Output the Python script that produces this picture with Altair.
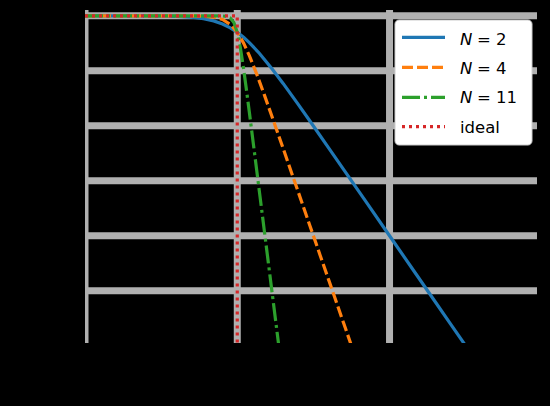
import altair as alt
import pandas as pd

# ---------------- data ----------------
series_names = ["N = 2", "N = 4", "N = 11", "ideal"]
series_colors = ["#1f77b4", "#ff7f0e", "#2ca02c", "#d62728"]

omega_n2 = [0.1, 0.2, 0.3, 0.4, 0.5, 0.6, 0.7, 0.8, 0.9, 1.0, 1.1, 1.2, 1.4,
            1.7, 2.0, 2.5, 3.0, 4.0, 5.0, 7.0, 10.0, 15.0, 20.0, 25.0, 32.0]
gain_n2 = [0.0, -0.007, -0.035, -0.11, -0.26, -0.53, -0.93, -1.49, -2.19, -3.01,
           -3.92, -4.88, -6.85, -9.71, -12.30, -16.03, -19.14, -24.10, -27.97,
           -33.80, -40.00, -47.04, -52.04, -55.92, -60.21]

omega_n4 = [0.1, 0.3, 0.5, 0.6, 0.7, 0.8, 0.9, 1.0, 1.1, 1.2, 1.35, 1.5, 1.75,
            2.0, 2.5, 3.0, 3.5, 4.0, 4.5, 5.0, 5.7]
gain_n4 = [0.0, 0.0, -0.017, -0.072, -0.243, -0.674, -1.555, -3.01, -4.97, -7.24,
           -10.80, -14.25, -19.49, -24.10, -31.84, -38.17, -43.53, -48.16,
           -52.26, -55.92, -60.47]

omega_n11 = [0.1, 0.5, 0.7, 0.8, 0.85, 0.9, 0.95, 1.0, 1.05, 1.1, 1.15, 1.2,
             1.3, 1.4, 1.5, 1.6, 1.7, 1.8, 1.9]
gain_n11 = [0.0, 0.0, -0.002, -0.032, -0.12, -0.41, -1.22, -3.01, -5.94, -9.61,
            -13.55, -17.50, -25.08, -32.15, -38.74, -44.91, -50.70, -56.17, -61.33]

omega_ideal = [0.1, 1.0, 1.0]
gain_ideal = [0.0, 0.0, -61.0]

x_grid = [0.1, 1.0, 10.0]
y_grid = [0, -10, -20, -30, -40, -50]

legend_italic = ["N", "N", "N", ""]
legend_rest = ["= 2", "= 4", "= 11", "ideal"]

# ---------------- build table ----------------
rows = []
for name, om, g in zip(series_names,
                       [omega_n2, omega_n4, omega_n11, omega_ideal],
                       [gain_n2, gain_n4, gain_n11, gain_ideal]):
    for i, (o, v) in enumerate(zip(om, g)):
        rows.append({"series": name, "omega": o, "gain": v, "i": i})
df = pd.DataFrame(rows)

# ---------------- styling ----------------
dashes = {"N = 2": None, "N = 4": [11, 4], "N = 11": [18, 4, 3, 4], "ideal": [3, 4]}
LW = 3.2
GRID_COLOR = "#b0b0b0"
GRID_W = 7

xscale = alt.Scale(type="log", domain=[0.1, 93], nice=False)
yscale = alt.Scale(domain=[-59.5, 1.05], nice=False, zero=False)

x_axis = alt.Axis(title="ω", values=x_grid, format="~g", grid=False,
                  labelColor="black", titleColor="black", tickColor="black",
                  domainColor="black", labelFontSize=14, titleFontSize=16)
y_axis = alt.Axis(title="|H(jω)|² (dB)", values=y_grid, grid=False,
                  labelColor="black", titleColor="black", tickColor="black",
                  domainColor="black", labelFontSize=14, titleFontSize=16)

layers = []

# grid lines
layers.append(
    alt.Chart(pd.DataFrame({"v": x_grid}))
    .mark_rule(color=GRID_COLOR, strokeWidth=GRID_W, clip=True)
    .encode(x=alt.X("v:Q", scale=xscale, axis=x_axis))
)
layers.append(
    alt.Chart(pd.DataFrame({"g": y_grid}))
    .mark_rule(color=GRID_COLOR, strokeWidth=GRID_W, clip=True)
    .encode(y=alt.Y("g:Q", scale=yscale, axis=y_axis))
)

# curves
for name, col in zip(series_names, series_colors):
    kw = dict(color=col, strokeWidth=LW, clip=True)
    if dashes[name] is not None:
        kw["strokeDash"] = dashes[name]
    layers.append(
        alt.Chart(df)
        .transform_filter(alt.datum.series == name)
        .mark_line(**kw)
        .encode(
            x=alt.X("omega:Q", scale=xscale, axis=x_axis),
            y=alt.Y("gain:Q", scale=yscale, axis=y_axis),
            order=alt.Order("i:Q"),
        )
    )

# custom legend (box, symbols, labels)
one = pd.DataFrame({"k": [0]})
layers.append(
    alt.Chart(one)
    .mark_rect(fill="white", stroke="#cccccc", strokeWidth=1, cornerRadius=4)
    .encode(x=alt.value(310), x2=alt.value(447), y=alt.value(10), y2=alt.value(135))
)
sym_y = [27.3, 57.3, 87.3, 116.7]
txt_y = [35.0, 63.5, 93.3, 123.0]
for idx, (name, col) in enumerate(zip(series_names, series_colors)):
    kw = dict(color=col, strokeWidth=LW)
    if dashes[name] is not None:
        kw["strokeDash"] = dashes[name]
    layers.append(
        alt.Chart(one).mark_rule(**kw)
        .encode(x=alt.value(317), x2=alt.value(360), y=alt.value(sym_y[idx]))
    )
    if legend_italic[idx]:
        layers.append(
            alt.Chart(pd.DataFrame({"t": [legend_italic[idx]]}))
            .mark_text(align="left", baseline="alphabetic", font="DejaVu Sans",
                       fontSize=16.5, fontStyle="italic", color="black")
            .encode(text="t:N", x=alt.value(375), y=alt.value(txt_y[idx]))
        )
        layers.append(
            alt.Chart(pd.DataFrame({"t": [legend_rest[idx]]}))
            .mark_text(align="left", baseline="alphabetic", font="DejaVu Sans",
                       fontSize=16.5, color="black")
            .encode(text="t:N", x=alt.value(392), y=alt.value(txt_y[idx]))
        )
    else:
        layers.append(
            alt.Chart(pd.DataFrame({"t": [legend_rest[idx]]}))
            .mark_text(align="left", baseline="alphabetic", font="DejaVu Sans",
                       fontSize=16.5, color="black")
            .encode(text="t:N", x=alt.value(375), y=alt.value(txt_y[idx]))
        )

chart = (
    alt.layer(*layers)
    .properties(
        width=452,
        height=333,
        padding={"left": 85, "top": 10, "right": 13, "bottom": 63},
        autosize=alt.AutoSizeParams(type="none"),
        background="#000000",
    )
    .configure_view(stroke=None)
)

chart.save("out.html", embed_options={"renderer": "svg", "actions": False})
